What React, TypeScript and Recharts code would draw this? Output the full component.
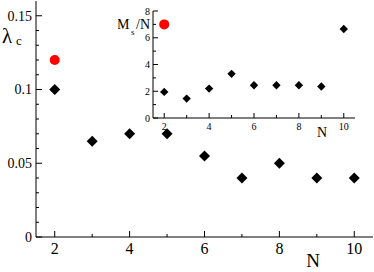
import { Scatter, ScatterChart, XAxis, YAxis } from "recharts";

const sizes = [2, 3, 4, 5, 6, 7, 8, 9, 10];
const lambdaC = [0.1, 0.065, 0.07, 0.07, 0.055, 0.04, 0.05, 0.04, 0.04];
const msPerN = [1.95, 1.45, 2.2, 3.3, 2.45, 2.45, 2.45, 2.35, 6.65];
const redN = [2];
const redLambda = [0.12];
const redMs = [7.0];

const nTicks = [2, 3, 4, 5, 6, 7, 8, 9, 10];
const nLabels = [2, 4, 6, 8, 10];
const lambdaTicks = [0, 0.01, 0.02, 0.03, 0.04, 0.05, 0.06, 0.07, 0.08, 0.09, 0.1, 0.11, 0.12, 0.13, 0.14, 0.15];
const lambdaLabels = [0, 0.05, 0.1, 0.15];
const msTicks = [0, 1, 2, 3, 4, 5, 6, 7, 8];
const msLabels = [0, 2, 4, 6, 8];

const mainData = sizes.map((n, i) => ({ n, v: lambdaC[i] }));
const mainRed = redN.map((n, i) => ({ n, v: redLambda[i] }));
const insetData = sizes.map((n, i) => ({ n, v: msPerN[i] }));
const insetRed = redN.map((n, i) => ({ n, v: redMs[i] }));

const FONT = '"Liberation Serif", "Times New Roman", Times, serif';
const serif = { fontFamily: FONT };

type Side = "left" | "right" | "top" | "bottom";

function makeTick(side: Side, labels: number[], fontSize: number, major: number, minor: number, gap: number, showLabel: boolean) {
  return (props: any) => {
    const { x, y, payload } = props;
    const value = payload.value;
    const isMajor = labels.some((l) => Math.abs(l - value) < 1e-9);
    const len = isMajor ? major : minor;
    let line;
    if (side === "left") line = <line x1={x} x2={x + len} y1={y} y2={y} stroke="#000" />;
    else if (side === "right") line = <line x1={x} x2={x - len} y1={y} y2={y} stroke="#000" />;
    else if (side === "top") line = <line x1={x} x2={x} y1={y} y2={y + len} stroke="#000" />;
    else line = <line x1={x} x2={x} y1={y} y2={y - len} stroke="#000" />;
    let label = null;
    if (showLabel && isMajor) {
      if (side === "left")
        label = (
          <text x={x - gap} y={y} dy="0.35em" textAnchor="end" fontSize={fontSize} style={serif} fill="#000">
            {String(value)}
          </text>
        );
      else
        label = (
          <text x={x} y={y + gap} dy="0.72em" textAnchor="middle" fontSize={fontSize} style={serif} fill="#000">
            {String(value)}
          </text>
        );
    }
    return (
      <g>
        {line}
        {label}
      </g>
    );
  };
}

const diamond = (half: number) => (props: any) => {
  const { cx, cy } = props;
  return <polygon points={`${cx},${cy - half} ${cx + half},${cy} ${cx},${cy + half} ${cx - half},${cy}`} fill="#000" />;
};

const dot = (r: number) => (props: any) => <circle cx={props.cx} cy={props.cy} r={r} fill="#ff0000" />;

const MainTitles = () => (
  <g style={serif} fill="#000">
    <text x={2} y={43} fontSize={21} style={serif}>λ</text>
    <text x={16} y={45} fontSize={13} style={serif}>c</text>
    <text x={313} y={267} fontSize={19} textAnchor="middle" style={serif}>N</text>
  </g>
);

const InsetTitles = () => (
  <g style={serif} fill="#000">
    <text x={-1} y={29} fontSize={14} style={serif}>M</text>
    <text x={13} y={35} fontSize={9} style={serif}>s</text>
    <text x={18} y={29} fontSize={14} style={serif}>/N</text>
    <text x={204} y={137} fontSize={14} textAnchor="middle" style={serif}>N</text>
  </g>
);

const axisStroke = { stroke: "#000", strokeWidth: 1 };

export default function App() {
  return (
    <div style={{ position: "absolute", left: 0, top: 0, width: 374, height: 272, background: "#fff", fontFamily: FONT }}>
      <ScatterChart width={374} height={272} margin={{ top: 1, right: 1, bottom: 0, left: 0 }} style={serif}>
        <XAxis
          xAxisId="b"
          dataKey="n"
          type="number"
          domain={[1.5, 10.5]}
          ticks={nTicks}
          interval={0}
          height={35}
          tickSize={0}
          tickMargin={0}
          tickLine={false}
          axisLine={axisStroke}
          tick={makeTick("bottom", nLabels, 16, 6, 3, 5, true)}
          label={<MainTitles />}
        />
        <XAxis
          xAxisId="t"
          type="number"
          orientation="top"
          domain={[1.5, 10.5]}
          ticks={nTicks}
          interval={0}
          height={0}
          tickSize={0}
          tickMargin={0}
          tickLine={false}
          axisLine={axisStroke}
          tick={makeTick("top", nLabels, 16, 6, 3, 5, false)}
        />
        <YAxis
          yAxisId="l"
          dataKey="v"
          type="number"
          domain={[0, 0.16]}
          ticks={lambdaTicks}
          interval={0}
          width={36}
          tickSize={0}
          tickMargin={0}
          tickLine={false}
          axisLine={axisStroke}
          tick={makeTick("left", lambdaLabels, 14, 6, 3, 4, true)}
        />
        <YAxis
          yAxisId="r"
          type="number"
          orientation="right"
          domain={[0, 0.16]}
          ticks={lambdaTicks}
          interval={0}
          width={0}
          tickSize={0}
          tickMargin={0}
          tickLine={false}
          axisLine={axisStroke}
          tick={makeTick("right", lambdaLabels, 14, 6, 3, 4, false)}
        />
        <Scatter xAxisId="b" yAxisId="l" data={mainData} shape={diamond(5.5)} isAnimationActive={false} />
        <Scatter xAxisId="b" yAxisId="l" data={mainRed} shape={dot(5)} isAnimationActive={false} />
      </ScatterChart>

      <div style={{ position: "absolute", left: 118, top: 0 }}>
        <ScatterChart width={240} height={145} margin={{ top: 11, right: 3, bottom: 0, left: 0 }} style={serif}>
          <XAxis
            xAxisId="b"
            dataKey="n"
            type="number"
            domain={[1.5, 10.5]}
            ticks={nTicks}
            interval={0}
            height={27}
            tickSize={0}
            tickMargin={0}
            tickLine={false}
            axisLine={axisStroke}
            tick={makeTick("bottom", nLabels, 10, 5, 3, 5, true)}
            label={<InsetTitles />}
          />
          <XAxis
            xAxisId="t"
            type="number"
            orientation="top"
            domain={[1.5, 10.5]}
            ticks={nTicks}
            interval={0}
            height={0}
            tickSize={0}
            tickMargin={0}
            tickLine={false}
            axisLine={axisStroke}
            tick={makeTick("top", nLabels, 10, 5, 3, 5, false)}
          />
          <YAxis
            yAxisId="l"
            dataKey="v"
            type="number"
            domain={[0, 8]}
            ticks={msTicks}
            interval={0}
            width={35}
            tickSize={0}
            tickMargin={0}
            tickLine={false}
            axisLine={axisStroke}
            tick={makeTick("left", msLabels, 10, 5, 3, 3, true)}
          />
          <YAxis
            yAxisId="r"
            type="number"
            orientation="right"
            domain={[0, 8]}
            ticks={msTicks}
            interval={0}
            width={0}
            tickSize={0}
            tickMargin={0}
            tickLine={false}
            axisLine={axisStroke}
            tick={makeTick("right", msLabels, 10, 5, 3, 3, false)}
          />
          <Scatter xAxisId="b" yAxisId="l" data={insetData} shape={diamond(4.2)} isAnimationActive={false} />
          <Scatter xAxisId="b" yAxisId="l" data={insetRed} shape={dot(5)} isAnimationActive={false} />
        </ScatterChart>
      </div>
    </div>
  );
}
